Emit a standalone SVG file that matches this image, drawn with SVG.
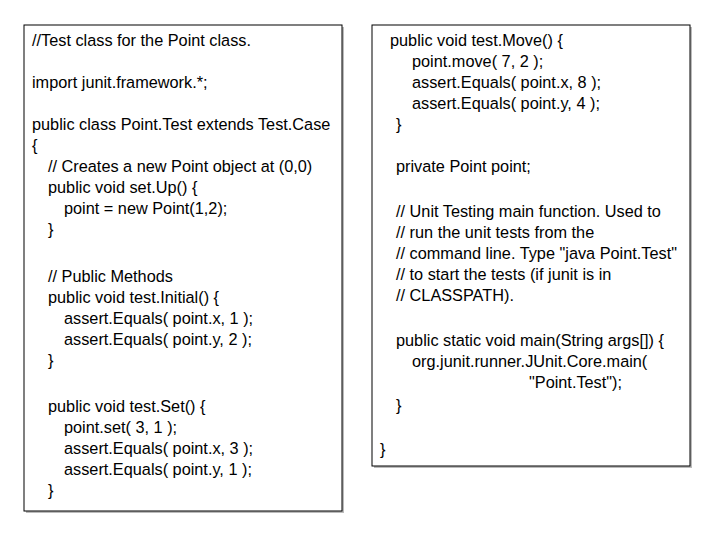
<svg xmlns="http://www.w3.org/2000/svg" width="720" height="540" viewBox="0 0 720 540">
<style>
.box{fill:#fff;stroke:#000;stroke-width:1}
.sh{fill:#bbb}
text{font-family:"Liberation Sans",Arial,sans-serif;font-size:16.3px;fill:#000}
</style>
<rect width="720" height="540" fill="#fff"/>
<g id="left">
<rect class="sh" x="26" y="27" width="318" height="486"/>
<rect class="box" x="24" y="25" width="318" height="486"/>
<text x="32" y="46">//Test class for the Point class.</text>
<text x="32" y="88">import junit.framework.*;</text>
<text x="32" y="130">public class Point.Test extends Test.Case</text>
<text x="32" y="151">{</text>
<text x="48" y="172">// Creates a new Point object at (0,0)</text>
<text x="48" y="193">public void set.Up() {</text>
<text x="64" y="214">point = new Point(1,2);</text>
<text x="48" y="235">}</text>
<text x="48" y="282">//  Public Methods</text>
<text x="48" y="303">public void test.Initial() {</text>
<text x="64" y="324">assert.Equals( point.x, 1 );</text>
<text x="64" y="345">assert.Equals( point.y, 2 );</text>
<text x="48" y="366">}</text>
<text x="48" y="412">public void test.Set() {</text>
<text x="64" y="433">point.set( 3, 1 );</text>
<text x="64" y="454">assert.Equals( point.x, 3 );</text>
<text x="64" y="475">assert.Equals( point.y, 1 );</text>
<text x="48" y="496">}</text>
</g>
<g id="right">
<rect class="sh" x="374" y="27" width="318" height="441"/>
<rect class="box" x="372" y="25" width="318" height="441"/>
<text x="390" y="46">public void test.Move() {</text>
<text x="412" y="67">point.move( 7, 2 );</text>
<text x="412" y="88">assert.Equals( point.x, 8 );</text>
<text x="412" y="109">assert.Equals( point.y, 4 );</text>
<text x="396" y="130">}</text>
<text x="396" y="172">private Point point;</text>
<text x="396" y="217">// Unit Testing main function. Used to</text>
<text x="396" y="238">// run the unit tests from the</text>
<text x="396" y="259">// command line. Type "java Point.Test"</text>
<text x="396" y="280">// to start the tests (if junit is in</text>
<text x="396" y="301">// CLASSPATH).</text>
<text x="396" y="346">public static void main(String args[]) {</text>
<text x="412" y="367">org.junit.runner.JUnit.Core.main(</text>
<text x="529" y="388">"Point.Test");</text>
<text x="396" y="411">}</text>
<text x="380" y="455">}</text>
</g>
<g id="connectors"/>
</svg>
